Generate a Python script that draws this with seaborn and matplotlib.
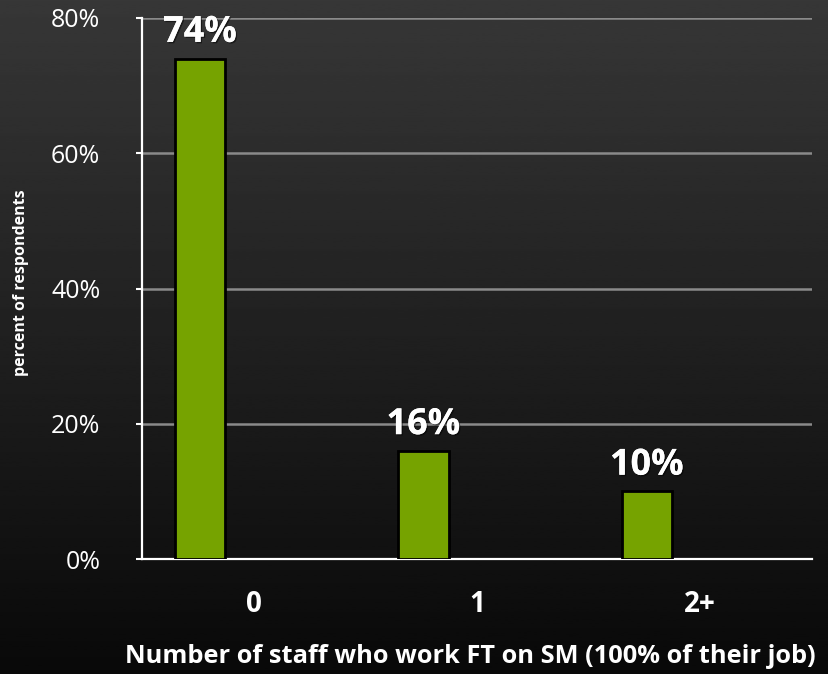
import numpy as np
import pandas as pd
import matplotlib
matplotlib.use("Agg")
import matplotlib.pyplot as plt
import matplotlib.patheffects as pe
import seaborn as sns

categories = ["0", "1", "2+"]
percent = [74, 16, 10]
y_ticks = [0, 20, 40, 60, 80]
y_tick_labels = ["0%", "20%", "40%", "60%", "80%"]
x_title = "Number of staff who work FT on SM (100% of their job)"
y_title = "percent of respondents"

sns.set_theme(style="white")
plt.rcParams["font.family"] = ["Open Sans", "DejaVu Sans"]

df = pd.DataFrame({"staff": categories, "pct": percent})

fig = plt.figure(figsize=(8.29, 6.74), dpi=100)

# dark vertical gradient backdrop
bg = fig.add_axes([0, 0, 1, 1], zorder=-10)
grad = np.linspace(0.215, 0.035, 256).reshape(-1, 1)
bg.imshow(grad, aspect="auto", cmap="gray", vmin=0, vmax=1, extent=[0, 1, 0, 1])
bg.set_axis_off()

ax = fig.add_axes([0.1713, 0.1706, 0.8082, 0.8027])
ax.set_facecolor("none")

sns.barplot(data=df, x="staff", y="pct", color="#76a300", saturation=1,
            width=0.225, edgecolor="black", linewidth=2, ax=ax, zorder=3)

# bars sit toward the left side of each category slot
for patch in ax.patches:
    patch.set_x(patch.get_x() - 0.24)

for patch, v in zip(ax.patches, percent):
    cx = patch.get_x() + patch.get_width() / 2
    ax.annotate(f"{v}%", (cx, v), xytext=(0, 12), textcoords="offset points",
                ha="center", va="baseline", fontsize=26, fontweight="bold",
                color="white", zorder=5,
                path_effects=[pe.withSimplePatchShadow(offset=(1, -1), shadow_rgbFace="black", alpha=0.5),
                              pe.Normal()])

ax.set_xlim(-0.5, 2.5)
ax.set_ylim(0, 80)
ax.set_yticks(y_ticks)
ax.set_yticklabels(y_tick_labels, fontsize=18, color="white")
ax.yaxis.grid(True, color="#8a8a8a", linewidth=1.8, zorder=0)
ax.set_axisbelow(True)

ax.set_xticks([0, 1, 2])
ax.set_xticklabels(categories, fontsize=20, fontweight="bold", color="white")
ax.set_xticks([-0.5, 0.5, 1.5, 2.5], minor=True)
ax.tick_params(axis="x", which="major", length=0, pad=22)
ax.tick_params(axis="x", which="minor", length=4, width=1.5, color="white", direction="out")
ax.tick_params(axis="y", which="major", length=4, width=1.5, color="white", direction="out", pad=26, left=True)

for side in ["top", "right"]:
    ax.spines[side].set_visible(False)
for side in ["left", "bottom"]:
    ax.spines[side].set_visible(True)
    ax.spines[side].set_color("white")
    ax.spines[side].set_linewidth(1.6)

ax.set_xlabel(x_title, fontsize=18.3, fontweight="bold", color="white", va="top")
ax.xaxis.set_label_coords(0.49, -0.158)
ax.set_ylabel(y_title, fontsize=11.5, fontweight="bold", color="white")
ax.yaxis.set_label_coords(-0.169, 0.51)

fig.savefig("out.png", dpi=100)
